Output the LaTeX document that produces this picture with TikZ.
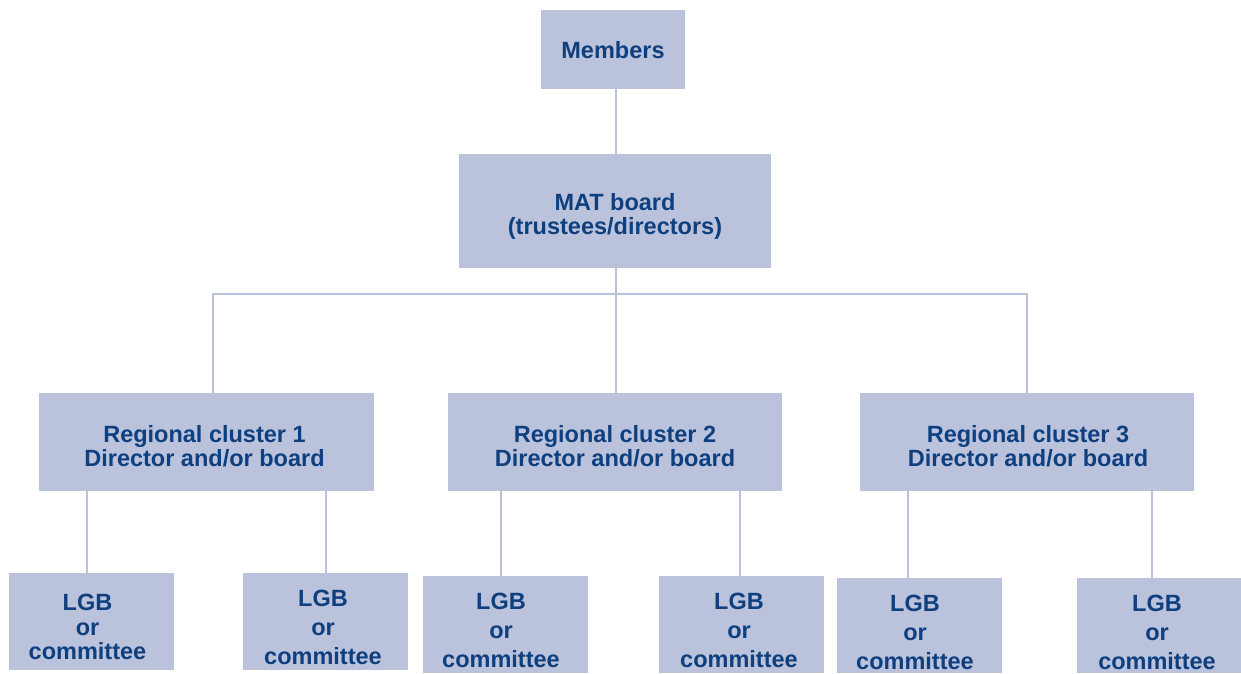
\documentclass[tikz,border=0pt]{standalone}
\usepackage{fontspec}
\setmainfont{Liberation Sans}
\definecolor{boxfill}{HTML}{BAC2DC}
\definecolor{txt}{HTML}{0E3F7F}
\begin{document}
\begin{tikzpicture}[x=1pt,y=-1pt,
  box/.style={fill=boxfill,draw=none,inner sep=0pt},
  lbl/.style={inner sep=0pt,align=center,text=txt,
    font=\fontsize{23.5}{24}\selectfont\bfseries},
  lgbt/.style={lbl,font=\fontsize{23.5}{29}\selectfont\bfseries},
  lgb/.style={box,minimum width=165pt,minimum height=97pt},
  conn/.style={draw=boxfill,line width=2.6pt}]
\useasboundingbox[fill=white] (0,0) rectangle (1241,673);
% boxes
\node[box,minimum width=144pt,minimum height=79pt] (mem) at (613,49.5) {};
\node[box,minimum width=312pt,minimum height=114pt] (mat) at (615,211) {};
\node[box,minimum width=335pt,minimum height=98pt] (r1) at (206.5,442) {};
\node[box,minimum width=334pt,minimum height=98pt] (r2) at (615,442) {};
\node[box,minimum width=334pt,minimum height=98pt] (r3) at (1027,442) {};
\node[lgb] (l1) at (91.5,621.5) {};
\node[lgb] (l2) at (325.5,621.5) {};
\node[lgb] (l3) at (505.5,624.5) {};
\node[lgb] (l4) at (741.5,624.5) {};
\node[lgb,minimum height=95pt] (l5) at (919.5,625.5) {};
\node[lgb,minimum width=164pt,minimum height=95pt] (l6) at (1159,625.5) {};
% texts
\node[lbl] (tmem) at (613,50.5) {Members};
\node[lbl] (tmat) at (615,216) {MAT board\\(trustees/directors)};
\node[lbl] (tr1) at (204.5,446) {Regional cluster 1\\Director and/or board};
\node[lbl] (tr2) at (615,446) {Regional cluster 2\\Director and/or board};
\node[lbl] (tr3) at (1028,446) {Regional cluster 3\\Director and/or board};
\node[lbl,font=\fontsize{23.5}{24.5}\selectfont\bfseries] (tl1) at (87.5,627) {LGB\\or\\committee};
\node[lgbt] (tl2) at (323,627) {LGB\\or\\committee};
\node[lgbt] (tl3) at (501,630) {LGB\\or\\committee};
\node[lgbt] (tl4) at (739,630) {LGB\\or\\committee};
\node[lgbt] (tl5) at (915,632) {LGB\\or\\committee};
\node[lgbt] (tl6) at (1157,632) {LGB\\or\\committee};
% connectors
\coordinate (vm) at (616,0);
\coordinate (b1) at (213,294);
\coordinate (b3) at (1027,294);
\coordinate (v1) at (87,0);
\coordinate (v2) at (326,0);
\coordinate (v3) at (501,0);
\coordinate (v4) at (740,0);
\coordinate (v5) at (908,0);
\coordinate (v6) at (1152,0);
\draw[conn] (mem.south -| vm) -- (mat.north -| vm);
\draw[conn] (mat.south -| vm) -- (r2.north -| vm);
\draw[conn] (r1.north -| b1) -- (b1) -- (b3) -- (r3.north -| b3);
\draw[conn] (r1.south -| v1) -- (l1.north -| v1);
\draw[conn] (r1.south -| v2) -- (l2.north -| v2);
\draw[conn] (r2.south -| v3) -- (l3.north -| v3);
\draw[conn] (r2.south -| v4) -- (l4.north -| v4);
\draw[conn] (r3.south -| v5) -- (l5.north -| v5);
\draw[conn] (r3.south -| v6) -- (l6.north -| v6);
\end{tikzpicture}
\end{document}
